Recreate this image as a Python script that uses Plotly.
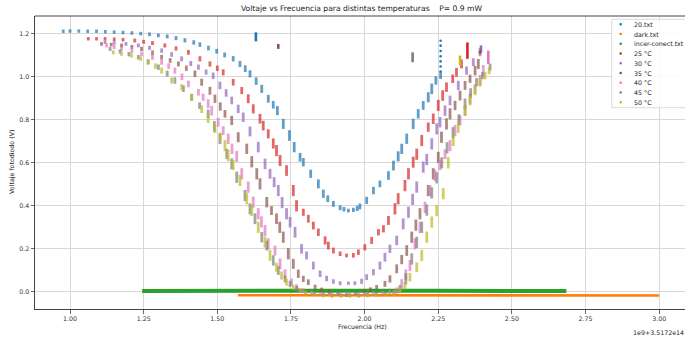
import numpy as np
import plotly.graph_objects as go

# ---------------- data ----------------
t20_x = [0.977,1.00,1.03,1.06,1.09,1.12,1.15,1.18,1.21,1.24,1.27,1.30,1.33,1.36,1.39,1.42,1.441,1.47,1.498,1.525,1.554,1.577,1.595,1.611,1.632,1.651,1.673,1.690,1.704,1.724,1.745,1.761,1.781,1.792,1.817,1.843,1.860,1.875,1.894,1.917,1.930,1.945,1.962,1.975,1.984,2.007,2.030,2.052,2.081,2.098,2.114,2.126,2.143,2.165,2.182,2.199,2.216,2.228,2.242,2.258]
t20_y = [1.212,1.213,1.213,1.212,1.212,1.210,1.208,1.206,1.204,1.201,1.198,1.193,1.188,1.180,1.170,1.160,1.150,1.134,1.119,1.102,1.084,1.060,1.038,1.014,0.980,0.944,0.898,0.870,0.843,0.781,0.727,0.673,0.626,0.603,0.549,0.502,0.456,0.433,0.409,0.391,0.384,0.378,0.381,0.388,0.397,0.425,0.471,0.502,0.541,0.587,0.630,0.665,0.712,0.781,0.828,0.867,0.905,0.944,0.983,1.006]
t20_tail_x = [2.258,2.258,2.258,2.258,2.258,2.258,2.258]
t20_tail_y = [1.025,1.048,1.072,1.096,1.120,1.145,1.168]

dark_x = [1.57,1.80,2.00,2.25,2.50,2.75,3.00]
dark_y = [-0.016,-0.016,-0.016,-0.016,-0.017,-0.017,-0.017]

incer_x = [1.245,1.50,1.75,2.00,2.25,2.50,2.685]
incer_y = [0.004,0.005,0.004,0.004,0.005,0.004,0.004]

t25_x = [1.062,1.09,1.119,1.15,1.18,1.220,1.25,1.28,1.322,1.36,1.402,1.441,1.475,1.50,1.520,1.554,1.583,1.605,1.622,1.645,1.656,1.673,1.690,1.701,1.713,1.735,1.758,1.769,1.792,1.809,1.826,1.843,1.866,1.877,1.894,1.917,1.939,1.962,1.979,2.001,2.024,2.047,2.064,2.081,2.103,2.114,2.137,2.149,2.165,2.177,2.194,2.216,2.233,2.250,2.265,2.278,2.299,2.312,2.329]
t25_y = [1.177,1.177,1.177,1.175,1.173,1.169,1.163,1.157,1.146,1.132,1.114,1.084,1.060,1.040,1.021,0.975,0.936,0.898,0.851,0.805,0.773,0.735,0.690,0.657,0.611,0.564,0.471,0.400,0.370,0.340,0.308,0.277,0.239,0.215,0.192,0.177,0.169,0.170,0.184,0.207,0.239,0.277,0.293,0.332,0.386,0.433,0.494,0.549,0.603,0.640,0.704,0.766,0.805,0.867,0.913,0.952,0.991,1.021,1.060]

t30_x = [1.119,1.15,1.19,1.232,1.27,1.311,1.345,1.379,1.41,1.436,1.462,1.486,1.509,1.530,1.549,1.571,1.588,1.611,1.639,1.662,1.679,1.693,1.707,1.720,1.735,1.747,1.764,1.786,1.803,1.826,1.849,1.871,1.894,1.917,1.945,1.967,1.990,2.007,2.030,2.052,2.069,2.086,2.109,2.131,2.149,2.163,2.177,2.199,2.211,2.228,2.245,2.256,2.273,2.290,2.318,2.346,2.369,2.392]
t30_y = [1.161,1.158,1.153,1.146,1.135,1.122,1.104,1.084,1.062,1.045,1.022,1.005,0.960,0.925,0.890,0.851,0.812,0.746,0.673,0.595,0.549,0.510,0.471,0.415,0.363,0.324,0.277,0.200,0.169,0.122,0.084,0.062,0.048,0.040,0.040,0.040,0.049,0.068,0.091,0.122,0.161,0.200,0.239,0.316,0.370,0.430,0.487,0.580,0.615,0.688,0.758,0.789,0.843,0.890,0.960,1.029,1.068,1.115]

t35_x = [1.107,1.14,1.175,1.21,1.243,1.28,1.311,1.34,1.368,1.395,1.424,1.447,1.475,1.492,1.510,1.526,1.549,1.571,1.600,1.617,1.634,1.645,1.668,1.684,1.701,1.712,1.724,1.741,1.758,1.775,1.792,1.809,1.832,1.854,1.88,1.91,1.939,1.97,2.00,2.02,2.041,2.069,2.086,2.109,2.126,2.143,2.160,2.174,2.188,2.216,2.233,2.250,2.261,2.278,2.290,2.307,2.324,2.341,2.358,2.375,2.386]
t35_y = [1.153,1.150,1.146,1.139,1.130,1.112,1.091,1.076,1.060,1.040,1.014,0.975,0.935,0.898,0.862,0.828,0.797,0.719,0.665,0.605,0.549,0.502,0.417,0.378,0.340,0.300,0.254,0.177,0.130,0.084,0.060,0.045,0.021,0.009,0.000,-0.010,-0.015,-0.010,0.000,0.010,0.021,0.037,0.060,0.107,0.150,0.192,0.254,0.310,0.363,0.471,0.549,0.625,0.719,0.781,0.828,0.867,0.913,0.960,0.991,1.029,1.060]

t40_x = [1.124,1.15,1.175,1.21,1.243,1.28,1.311,1.335,1.356,1.38,1.402,1.436,1.452,1.469,1.481,1.503,1.520,1.537,1.550,1.566,1.583,1.605,1.622,1.639,1.650,1.662,1.673,1.696,1.713,1.730,1.752,1.769,1.79,1.82,1.85,1.88,1.91,1.94,1.97,2.00,2.03,2.06,2.085,2.109,2.126,2.140,2.154,2.171,2.188,2.205,2.222,2.239,2.256,2.273,2.290,2.307,2.324,2.341,2.358,2.375,2.392,2.403]
t40_y = [1.146,1.139,1.130,1.120,1.107,1.090,1.068,1.050,1.029,1.000,0.967,0.928,0.905,0.875,0.843,0.789,0.750,0.712,0.665,0.630,0.549,0.487,0.417,0.363,0.325,0.285,0.223,0.192,0.130,0.084,0.045,0.021,0.005,-0.005,-0.010,-0.012,-0.012,-0.012,-0.012,-0.010,-0.008,-0.005,-0.002,0.006,0.037,0.080,0.122,0.223,0.300,0.393,0.471,0.541,0.590,0.640,0.680,0.750,0.797,0.843,0.898,0.944,0.983,1.029]

t45_x = [1.136,1.17,1.20,1.232,1.265,1.300,1.33,1.356,1.385,1.413,1.44,1.469,1.490,1.509,1.532,1.549,1.566,1.594,1.611,1.628,1.651,1.668,1.690,1.707,1.730,1.747,1.77,1.80,1.83,1.86,1.89,1.92,1.95,1.98,2.01,2.04,2.07,2.10,2.120,2.140,2.160,2.177,2.194,2.211,2.228,2.245,2.262,2.280,2.300,2.320,2.341,2.360,2.380,2.400,2.426]
t45_y = [1.130,1.118,1.105,1.091,1.070,1.045,1.015,0.983,0.945,0.905,0.866,0.828,0.770,0.712,0.642,0.595,0.533,0.448,0.386,0.340,0.254,0.215,0.146,0.099,0.060,0.037,0.015,0.000,-0.008,-0.012,-0.015,-0.015,-0.015,-0.015,-0.013,-0.010,-0.006,0.000,0.015,0.060,0.153,0.230,0.300,0.380,0.460,0.530,0.600,0.670,0.740,0.800,0.874,0.925,0.975,1.005,1.045]

t50_x = [1.147,1.175,1.209,1.24,1.266,1.29,1.311,1.345,1.379,1.413,1.447,1.469,1.492,1.510,1.526,1.537,1.554,1.577,1.600,1.617,1.639,1.662,1.679,1.701,1.718,1.735,1.758,1.781,1.80,1.83,1.86,1.89,1.92,1.95,1.98,2.01,2.04,2.07,2.10,2.12,2.137,2.154,2.177,2.194,2.211,2.228,2.245,2.267,2.284,2.301,2.318,2.341,2.358,2.375,2.392,2.409,2.423]
t50_y = [1.114,1.107,1.099,1.085,1.068,1.050,1.029,0.983,0.952,0.905,0.850,0.805,0.758,0.720,0.680,0.634,0.590,0.518,0.433,0.378,0.300,0.231,0.169,0.114,0.076,0.045,0.021,0.006,-0.005,-0.012,-0.017,-0.020,-0.020,-0.020,-0.020,-0.018,-0.016,-0.012,-0.005,0.010,0.029,0.068,0.114,0.169,0.254,0.324,0.378,0.456,0.600,0.704,0.766,0.843,0.890,0.936,0.975,1.006,1.029]

# isolated vertical spikes: (x, y_low, y_high)
t20_spikes = [(1.631, 1.165, 1.207)]
t25_spikes = [(2.349, 1.084, 1.160)]
t30_spikes = [(2.395, 1.114, 1.146)]
t35_spikes = [(1.707, 1.130, 1.153), (2.392, 1.107, 1.122)]
t40_spikes = [(2.420, 1.060, 1.122)]
t45_spikes = [(2.163, 1.068, 1.114)]
t50_spikes = [(2.324, 1.053, 1.099)]

legend_labels = ["20.txt", "dark.txt", "incer-conect.txt", "25 °C", "30 °C",
                 "35 °C", "40 °C", "45 °C", "50 °C"]
colors = ["#1f77b4", "#ff7f0e", "#2ca02c", "#d62728", "#9467bd",
          "#8c564b", "#e377c2", "#7f7f7f", "#bcbd22"]

x_ticks = [1.00, 1.25, 1.50, 1.75, 2.00, 2.25, 2.50, 2.75, 3.00]
y_ticks = [0.0, 0.2, 0.4, 0.6, 0.8, 1.0, 1.2]

# ---------------- layout geometry ----------------
W, H = 685, 339
L, R, T, B = 35, 0, 16, 30
X_RANGE = [0.8812, 3.0876]
Y_RANGE = [-0.080, 1.283]
FONT = "DejaVu Sans"

def pxx(px):
    return (px - L) / (W - L - R)

def pxy(py):
    return (H - B - py) / (H - B - T)

def dash_sizes(x, y):
    g = np.abs(np.gradient(np.array(y, float), np.array(x, float)))
    return np.clip(2.4 + 1.7 * g, 2.4, 8)

fig = go.Figure()

def add_curve(x, y, color, spikes):
    fig.add_trace(go.Scatter(
        x=x, y=y, mode="markers", showlegend=False, hoverinfo="skip",
        marker=dict(symbol="line-ns", size=dash_sizes(x, y), color=color,
                    line=dict(color=color, width=2.8))))
    sx, sy = [], []
    for xs, lo, hi in spikes:
        sx += [xs, xs, None]
        sy += [lo, hi, None]
    if sx:
        fig.add_trace(go.Scatter(x=sx, y=sy, mode="lines", showlegend=False,
                                 hoverinfo="skip",
                                 line=dict(color=color, width=2.6)))

add_curve(t20_x, t20_y, colors[0], t20_spikes)
fig.add_trace(go.Scatter(x=t20_tail_x, y=t20_tail_y, mode="markers",
                         showlegend=False, hoverinfo="skip",
                         marker=dict(size=2.6, color=colors[0])))
fig.add_trace(go.Scatter(x=dark_x, y=dark_y, mode="lines", showlegend=False,
                         hoverinfo="skip", line=dict(color=colors[1], width=2.6)))
fig.add_trace(go.Scatter(x=incer_x, y=incer_y, mode="lines", showlegend=False,
                         hoverinfo="skip", line=dict(color=colors[2], width=4)))
add_curve(t25_x, t25_y, colors[3], t25_spikes)
add_curve(t30_x, t30_y, colors[4], t30_spikes)
add_curve(t35_x, t35_y, colors[5], t35_spikes)
add_curve(t40_x, t40_y, colors[6], t40_spikes)
add_curve(t45_x, t45_y, colors[7], t45_spikes)
add_curve(t50_x, t50_y, colors[8], t50_spikes)

shapes = []
annotations = []

# top spine
shapes.append(dict(type="line", xref="paper", yref="paper", x0=0, x1=1.05,
                   y0=1, y1=1, line=dict(color="#444", width=1)))

# legend box
shapes.append(dict(type="rect", xref="paper", yref="paper",
                   x0=pxx(611.7), x1=pxx(700), y0=pxy(107.7), y1=pxy(19.3),
                   fillcolor="rgba(255,255,255,0.85)",
                   line=dict(color="#d0d0d0", width=0.8), layer="above"))
for i, (lab, col) in enumerate(zip(legend_labels, colors)):
    yc = 24.3 + i * 9.75
    shapes.append(dict(type="circle", xref="paper", yref="paper",
                       xsizemode="pixel", ysizemode="pixel",
                       xanchor=pxx(620.7), yanchor=pxy(yc),
                       x0=-1.3, x1=1.3, y0=-1.3, y1=1.3,
                       fillcolor=col, line=dict(width=0), layer="above"))
    annotations.append(dict(text=lab, xref="paper", yref="paper",
                            x=pxx(632), y=pxy(yc), xanchor="left",
                            yanchor="middle", showarrow=False,
                            font=dict(size=6.3, color="#222", family=FONT)))

# title and axis labels
annotations.append(dict(text="Voltaje vs Frecuencia para distintas temperaturas\u00a0\u00a0\u00a0\u00a0P= 0.9 mW",
                        xref="paper", yref="paper", x=pxx(362), y=pxy(8),
                        xanchor="center", yanchor="middle", showarrow=False,
                        font=dict(size=7.6, color="#222", family=FONT)))
annotations.append(dict(text="Frecuencia (Hz)", xref="paper", yref="paper",
                        x=pxx(362), y=pxy(326.5), xanchor="center",
                        yanchor="middle", showarrow=False,
                        font=dict(size=6.3, color="#222", family=FONT)))
annotations.append(dict(text="1e9+3.5172e14", xref="paper", yref="paper",
                        x=pxx(686), y=pxy(333), xanchor="right",
                        yanchor="middle", showarrow=False,
                        font=dict(size=6.3, color="#222", family=FONT)))
annotations.append(dict(text="Voltaje fotodiodo (V)", xref="paper", yref="paper",
                        x=pxx(12), y=pxy(162), xanchor="center",
                        yanchor="middle", textangle=-90, showarrow=False,
                        font=dict(size=6.3, color="#222", family=FONT)))

fig.update_layout(
    width=W, height=H,
    margin=dict(l=L, r=R, t=T, b=B, pad=0),
    paper_bgcolor="white", plot_bgcolor="white",
    font=dict(family=FONT, size=6.3, color="#333"),
    showlegend=False,
    shapes=shapes, annotations=annotations,
    xaxis=dict(range=X_RANGE, tickvals=x_ticks, tickformat=".2f",
               showgrid=True, gridcolor="#d8d8d8", gridwidth=1,
               zeroline=False, showline=True, linecolor="#444", linewidth=1,
               ticks="outside", ticklen=3.5, tickwidth=0.8, tickcolor="#444",
               tickfont=dict(size=6.3, color="#333", family=FONT)),
    yaxis=dict(range=Y_RANGE, tickvals=y_ticks, tickformat=".1f",
               showgrid=True, gridcolor="#d8d8d8", gridwidth=1,
               zeroline=False, showline=True, linecolor="#444", linewidth=1,
               ticks="outside", ticklen=3.5, tickwidth=0.8, tickcolor="#444",
               tickfont=dict(size=6.3, color="#333", family=FONT)),
)

fig.write_html("out.html",
               config={"displayModeBar": False, "staticPlot": True},
               post_script="document.body.style.margin='0';"
                           "document.body.style.overflow='hidden';")
